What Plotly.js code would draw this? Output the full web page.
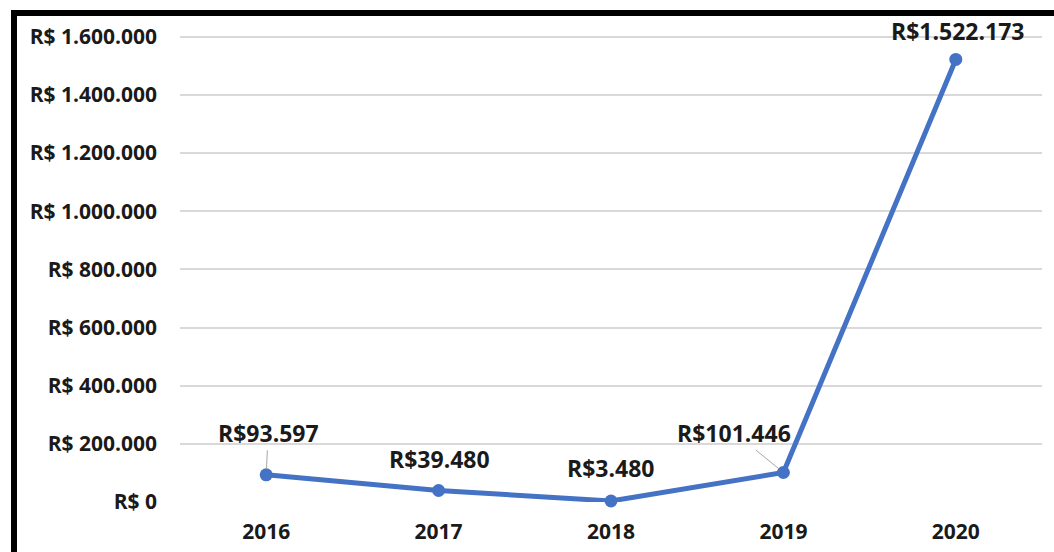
<!DOCTYPE html>
<html>
<head>
<meta charset="utf-8">
<script src="https://cdn.plot.ly/plotly-3.0.1.min.js"></script>
<style>
  html, body { margin: 0; padding: 0; background: #ffffff; }
  #wrap { position: relative; width: 1054px; height: 552px; overflow: hidden; }
  #chart { width: 1054px; height: 552px; }
  #frame { position: absolute; left: 11px; top: 10px; width: 1100px; height: 600px;
           border-top: 6px solid #000; border-left: 6px solid #000; pointer-events: none; }
</style>
</head>
<body>
<div id="wrap">
  <div id="chart"></div>
  <div id="frame"></div>
</div>
<script>
const years = ['2016', '2017', '2018', '2019', '2020'];
const values = [93597, 39480, 3480, 101446, 1522173];
const valueLabels = ['R$93.597', 'R$39.480', 'R$3.480', 'R$101.446', 'R$1.522.173'];
const tickValues = [0, 200000, 400000, 600000, 800000, 1000000, 1200000, 1400000, 1600000];
const tickLabels = ['R$ 0', 'R$ 200.000', 'R$ 400.000', 'R$ 600.000', 'R$ 800.000',
                    'R$ 1.000.000', 'R$ 1.200.000', 'R$ 1.400.000', 'R$ 1.600.000'];

// label placement (pixel offsets from the point) and whether a leader line is shown
const labelOffsets = [[2, -42, true], [1, -32, false], [0, -33, false], [-49, -40, true], [2, -28, false]];

const FONT = 'Open Sans, Liberation Sans, sans-serif';

const trace = {
  x: years,
  y: values,
  type: 'scatter',
  mode: 'lines+markers',
  line: { color: '#4472C4', width: 5 },
  marker: { color: '#4472C4', size: 13 },
  hoverinfo: 'skip',
  cliponaxis: false
};

const annotations = years.map((yr, i) => ({
  x: i,
  y: values[i],
  xref: 'x',
  yref: 'y',
  text: '<b>' + valueLabels[i] + '</b>',
  showarrow: true,
  arrowhead: 0,
  arrowwidth: 1,
  arrowcolor: labelOffsets[i][2] ? '#a6a6a6' : 'rgba(255,255,255,0)',
  standoff: 6,
  ax: labelOffsets[i][0],
  ay: labelOffsets[i][1],
  font: { family: FONT, size: 23, color: '#1a1a1a' }
}));

const layout = {
  width: 1054,
  height: 552,
  margin: { l: 180, r: 12, t: 31, b: 50 },
  paper_bgcolor: '#ffffff',
  plot_bgcolor: '#ffffff',
  showlegend: false,
  xaxis: {
    type: 'category',
    range: [-0.5, 4.5],
    showgrid: false,
    zeroline: false,
    showline: false,
    ticks: '',
    tickfont: { family: FONT, size: 21, color: '#1a1a1a', weight: 'bold' },
    ticklabelstandoff: 15
  },
  yaxis: {
    range: [0, 1620000],
    tickvals: tickValues,
    ticktext: tickLabels,
    showgrid: true,
    gridcolor: '#d9d9d9',
    gridwidth: 1.5,
    zeroline: false,
    showline: false,
    ticks: '',
    tickfont: { family: FONT, size: 21, color: '#1a1a1a', weight: 'bold' },
    ticklabelstandoff: 22
  },
  annotations: annotations
};

Plotly.newPlot('chart', [trace], layout, { displayModeBar: false });
</script>
</body>
</html>
